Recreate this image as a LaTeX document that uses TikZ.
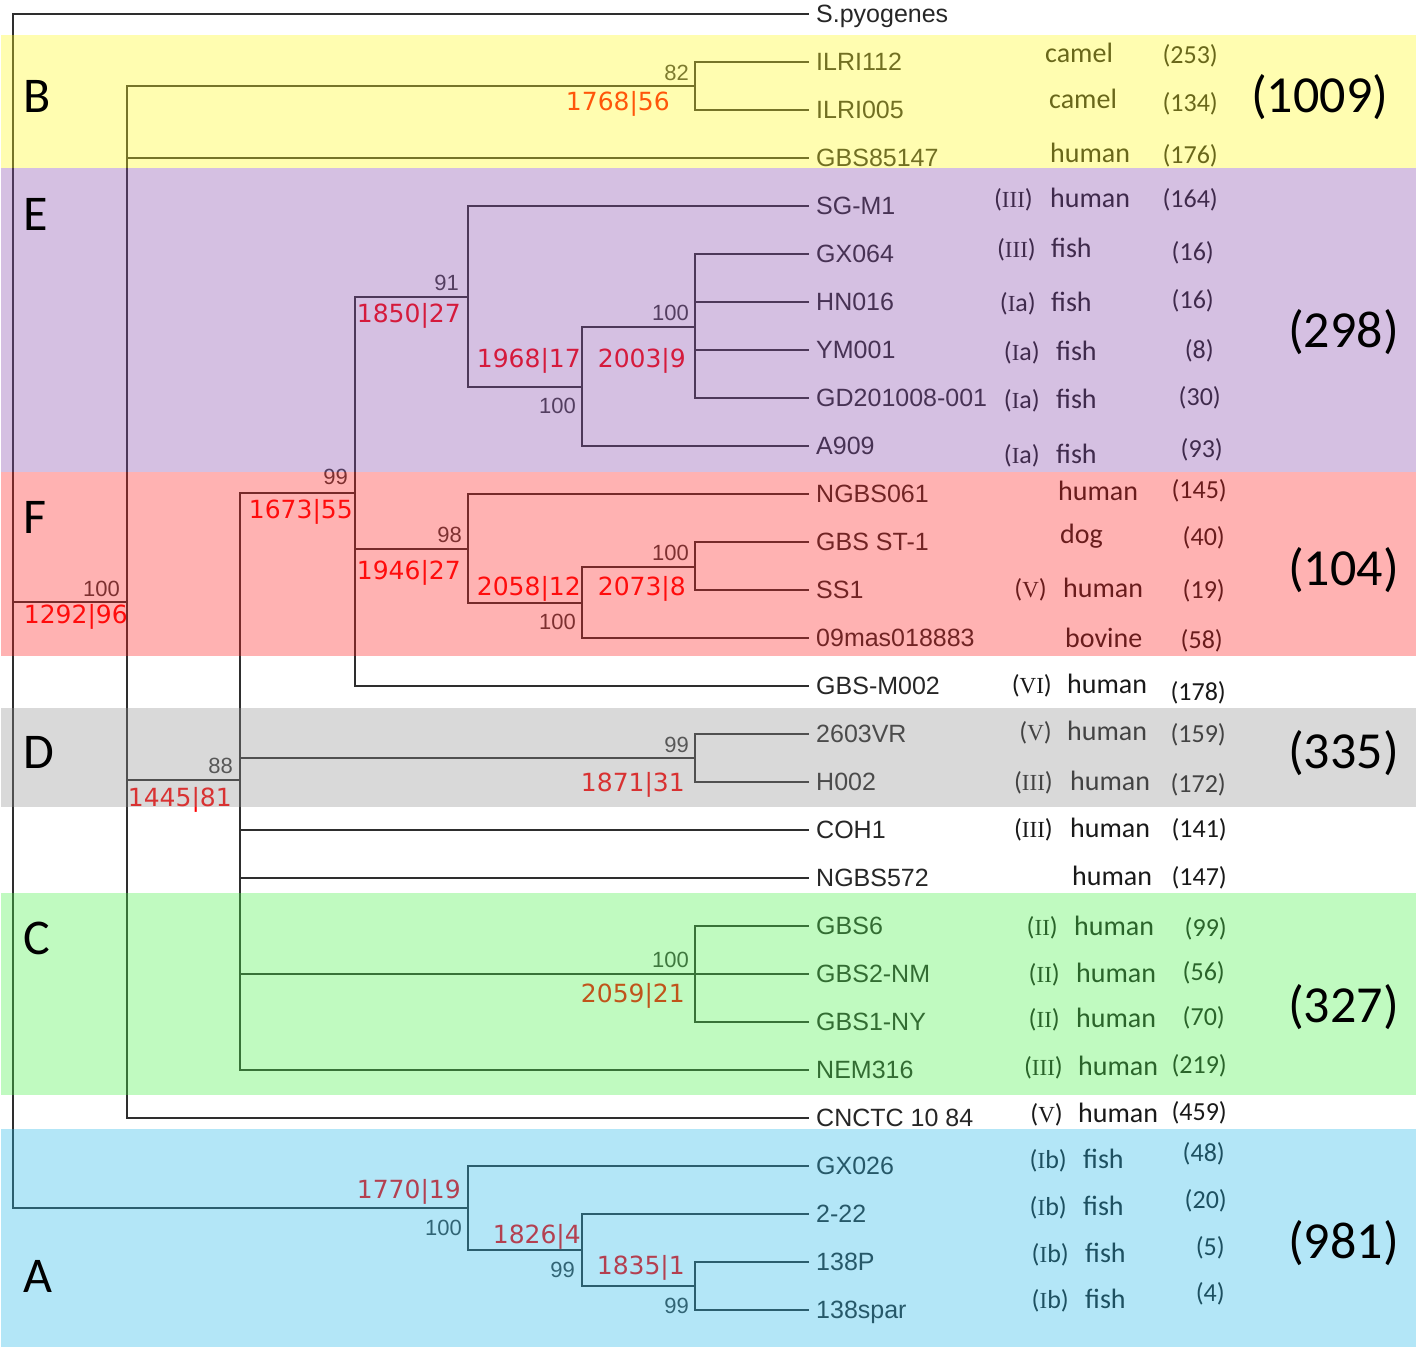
\documentclass[tikz,border=0pt]{standalone}
\usepackage{fontspec}
\newfontfamily\leaffont{Liberation Sans}
\newfontfamily\calfont{Carlito}
\newfontfamily\agefont{DejaVu Sans}
\newfontfamily\romfont{Liberation Serif}
\newcommand{\rn}[1]{{\romfont\fontsize{23}{23}\selectfont #1}}
\definecolor{bandB}{RGB}{255,249,29}
\definecolor{bandE}{RGB}{135,75,172}
\definecolor{bandF}{RGB}{255,35,35}
\definecolor{bandD}{RGB}{146,146,146}
\definecolor{bandC}{RGB}{75,241,75}
\definecolor{bandA}{RGB}{38,184,232}
\begin{document}
\begin{tikzpicture}[x=1pt, y=-1pt,
    branch/.style={line width=2.8pt, draw=black!82},
    leaf/.style={anchor=west, inner xsep=7pt, inner ysep=0pt, text height=18pt, text depth=2pt,
        font=\leaffont\fontsize{25}{25}\selectfont, text=black!85},
    boot/.style={anchor=base east, inner sep=0pt, font=\leaffont\fontsize{22}{22}\selectfont, text=black!78},
    age/.style={anchor=base east, inner sep=0pt, font=\agefont\fontsize{25}{25}\selectfont, text=red},
    host/.style={anchor=base west, inner sep=0pt, font=\calfont\fontsize{28}{28}\selectfont, text=black!90},
    cnt/.style={anchor=base east, inner sep=0pt, font=\calfont\fontsize{26}{26}\selectfont, text=black!90},
    sero/.style={anchor=base east, inner sep=0pt, font=\calfont\fontsize{26}{26}\selectfont, text=black!90},
    grp/.style={anchor=base west, inner sep=0pt, font=\calfont\fontsize{50}{50}\selectfont},
    gsize/.style={anchor=base west, inner sep=0pt, font=\calfont\fontsize{52}{52}\selectfont}]
    \useasboundingbox (0,0) rectangle (1418,1349);

    % 叶节点（菌株名）
    \foreach \i/\t in {0/S.pyogenes,1/ILRI112,2/ILRI005,3/GBS85147,4/SG-M1,5/GX064,6/HN016,
        7/YM001,8/GD201008-001,9/A909,10/NGBS061,11/GBS ST-1,12/SS1,13/09mas018883,
        14/GBS-M002,15/2603VR,16/H002,17/COH1,18/NGBS572,19/GBS6,20/GBS2-NM,21/GBS1-NY,
        22/NEM316,23/CNCTC 10 84,24/GX026,25/2-22,26/138P,27/138spar}
        \node[leaf] (l\i) at (809,14+48*\i) {\t};

    % 内部节点
    \coordinate (root) at (13,602);
    \coordinate (nIn) at (127,602);
    \coordinate (nB) at (695,86);
    \coordinate (nDC) at (240,780);
    \coordinate (nEF) at (355,493);
    \coordinate (nE) at (468,297);
    \coordinate (nE2) at (582,387);
    \coordinate (nE3) at (695,327);
    \coordinate (nF) at (468,549);
    \coordinate (nF2) at (582,603);
    \coordinate (nF3) at (695,567);
    \coordinate (nD) at (695,758);
    \coordinate (nC) at (695,974);
    \coordinate (nA) at (468,1208);
    \coordinate (nA2) at (582,1250);
    \coordinate (nA3) at (695,1286);

    % 树枝
    \foreach \p/\cl in {root/{l0.west,nIn,nA}, nIn/{nB,l3.west,nDC,l23.west}, nB/{l1.west,l2.west},
        nDC/{nEF,nD,l17.west,l18.west,nC,l22.west}, nEF/{nE,nF,l14.west}, nE/{l4.west,nE2},
        nE2/{nE3,l9.west}, nE3/{l5.west,l6.west,l7.west,l8.west}, nF/{l10.west,nF2},
        nF2/{nF3,l13.west}, nF3/{l11.west,l12.west}, nD/{l15.west,l16.west},
        nC/{l19.west,l20.west,l21.west}, nA/{l24.west,nA2}, nA2/{l25.west,nA3}, nA3/{l26.west,l27.west}}
        \foreach \c in \cl
            \draw[branch, line join=miter] (\p) |- (\c);

    % 支持率
    \foreach \n/\x/\y/\t in {b1/689/80/82, b2/120/596/100, b3/459/290/91, b4/348/484/99,
        b5/462/542/98, b6/576/413/100, b7/689/320/100, b8/576/629/100, b9/689/560/100,
        b10/689/752/99, b11/233/773/88, b12/689/967/100, b13/462/1235/100, b14/575/1277/99,
        b15/689/1313/99}
        \node[boot] (\n) at (\x,\y) {\t};

    % 年代|数目
    \foreach \n/\x/\y/\t in {a1/670/110/1768|56, a2/128/623/1292|96, a3/461/322/1850|27,
        a4/353/518/1673|55, a5/461/579/1946|27, a6/581/367/1968|17, a7/686/367/2003|9,
        a8/581/595/2058|12, a9/686/595/2073|8, a10/685/791/1871|31, a11/232/806/1445|81,
        a12/685/1002/2059|21, a13/461/1198/1770|19, a14/581/1243/1826|4, a15/685/1274/1835|1}
        \node[age] (\n) at (\x,\y) {\t};

    % 宿主
    \foreach \i/\x/\y/\t in {1/1045/62/camel, 2/1049/108/camel, 3/1050/162/human, 4/1050/207/human,
        5/1051/257/fish, 6/1051/311/fish, 7/1056/360/fish, 8/1056/408/fish, 9/1056/463/fish,
        10/1058/500/human, 11/1060/543/dog, 12/1063/597/human, 13/1065/647/bovine,
        14/1067/693/human, 15/1067/740/human, 16/1070/790/human, 17/1070/837/human,
        18/1072/885/human, 19/1074/935/human, 20/1076/982/human, 21/1076/1027/human,
        22/1078/1075/human, 23/1078/1122/human, 24/1083/1168/fish, 25/1083/1215/fish,
        26/1085/1262/fish, 27/1085/1308/fish}
        \node[host] (h\i) at (\x,\y) {\t};

    % 血清型
    \foreach \i/\x/\y/\t in {4/1033/207/\rn{III}, 5/1036/257/\rn{III}, 6/1036/311/\rn{I}a,
        7/1040/360/\rn{I}a, 8/1040/408/\rn{I}a, 9/1040/463/\rn{I}a, 12/1047/597/\rn{V},
        14/1052/693/\rn{VI}, 15/1052/740/\rn{V}, 16/1053/790/\rn{III}, 17/1053/837/\rn{III},
        19/1058/935/\rn{II}, 20/1060/982/\rn{II}, 21/1060/1027/\rn{II}, 22/1063/1075/\rn{III},
        23/1063/1122/\rn{V}, 24/1067/1168/\rn{I}b, 25/1067/1215/\rn{I}b, 26/1069/1262/\rn{I}b,
        27/1069/1308/\rn{I}b}
        \node[sero] (s\i) at (\x,\y) {(\t)};

    % 数量
    \foreach \i/\x/\y/\t in {1/1218/63/253, 2/1218/111/134, 3/1218/163/176, 4/1218/207/164,
        5/1214/260/16, 6/1214/308/16, 7/1214/358/8, 8/1221/405/30, 9/1223/457/93,
        10/1227/498/145, 11/1225/545/40, 12/1225/598/19, 13/1223/648/58, 14/1226/700/178,
        15/1226/742/159, 16/1226/792/172, 17/1227/837/141, 18/1227/885/147, 19/1227/936/99,
        20/1225/980/56, 21/1225/1025/70, 22/1227/1073/219, 23/1227/1120/459, 24/1225/1161/48,
        25/1227/1208/20, 26/1225/1255/5, 27/1225/1301/4}
        \node[cnt] (c\i) at (\x,\y) {(\t)};

    % 分组色带
    \fill[bandB, fill opacity=0.35] (1,35) rectangle (1416,168);
    \fill[bandE, fill opacity=0.35] (1,168) rectangle (1416,472);
    \fill[bandF, fill opacity=0.35] (1,472) rectangle (1416,656);
    \fill[bandD, fill opacity=0.35] (1,708) rectangle (1416,807);
    \fill[bandC, fill opacity=0.35] (1,893) rectangle (1416,1095);
    \fill[bandA, fill opacity=0.35] (1,1129) rectangle (1416,1347);

    % 组名和组内数量
    \foreach \n/\y/\t in {gB/112/B, gE/230/E, gF/533/F, gD/768/D, gC/954/C, gA/1292/A}
        \node[grp] (\n) at (23,\y) {\t};
    \foreach \n/\x/\y/\t in {z1/1251/112/1009, z2/1288/347/298, z3/1288/585/104,
        z4/1288/768/335, z5/1288/1022/327, z6/1288/1258/981}
        \node[gsize] (\n) at (\x,\y) {(\t)};
\end{tikzpicture}
\end{document}
